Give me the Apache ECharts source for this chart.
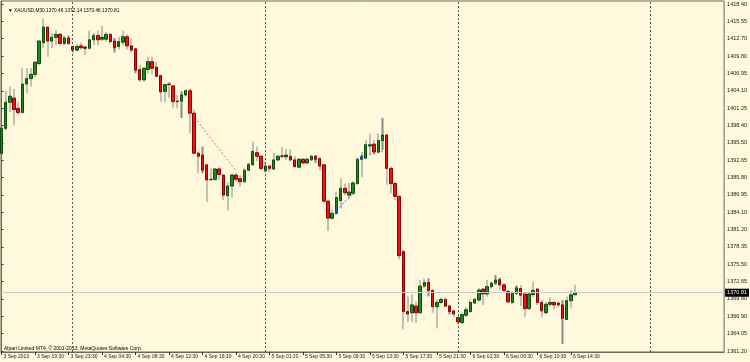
<!DOCTYPE html>
<html><head><meta charset="utf-8">
<script src="https://cdn.jsdelivr.net/npm/echarts@6/dist/echarts.min.js"></script>
<style>html,body{margin:0;padding:0;background:#FFF8DC;}#c{width:750px;height:362px;}</style>
</head><body><div id="c"></div>
<script>
const symbolName = 'XAUUSD,M30';
const footerText = 'Alpari Limited MT4, © 2001-2013, MetaQuotes Software Corp.';
// bar index 0 = 3 Sep 2013 15:30 (M30 bars)
const opens = [1393.8,1397.9,1402.2,1402.9,1401.2,1400.5,1405.2,1406.1,1406.8,1408.6,
1412.0,1414.6,1412.3,1412.9,1413.4,1411.9,1412.8,1411.4,1410.8,1411.5,
1411.3,1411.1,1412.5,1413.2,1412.6,1412.6,1413.4,1412.3,1411.4,1412.1,
1413.0,1411.5,1411.0,1407.6,1405.9,1407.6,1408.9,1408.0,1406.6,1404.0,
1405.2,1404.9,1402.4,1402.4,1403.4,1404.1,1400.4,1393.8,1393.5,1391.9,
1389.5,1389.5,1391.2,1390.2,1386.8,1388.4,1390.2,1389.6,1389.1,1391.0,
1391.9,1393.9,1393.3,1390.9,1391.7,1391.2,1392.7,1393.35,1393.2,1393.3,
1392.7,1391.5,1392.8,1392.2,1392.7,1393.3,1392.9,1391.9,1385.9,1383.1,
1383.9,1386.0,1388.0,1386.9,1387.2,1388.8,1392.8,1393.0,1395.0,1395.3,
1394.0,1395.9,1396.8,1391.3,1388.8,1386.7,1377.6,1367.7,1367.5,1368.6,
1367.5,1371.9,1372.5,1371.2,1368.5,1369.2,1369.7,1368.6,1367.8,1366.7,
1365.9,1367.1,1367.7,1369.1,1369.6,1371.4,1370.6,1371.8,1372.4,1373.0,
1372.1,1371.0,1369.2,1370.7,1371.5,1370.6,1368.2,1370.5,1371.4,1369.2,
1367.5,1368.9,1369.2,1369.1,1368.8,1366.4,1369.5,1370.46];
const highs = [1398.2,1404.1,1404.8,1404.4,1402.3,1407.8,1407.8,1407.8,1409.0,1412.4,
1416.0,1414.7,1413.6,1414.1,1413.6,1413.2,1413.2,1411.6,1411.8,1412.0,
1411.5,1414.0,1413.6,1414.0,1414.8,1413.8,1413.6,1412.8,1413.0,1414.0,
1413.4,1412.8,1411.1,1408.3,1408.0,1409.7,1409.7,1408.9,1406.6,1405.3,
1405.6,1405.0,1403.4,1404.0,1404.4,1404.5,1401.0,1394.1,1394.9,1391.9,
1391.3,1391.4,1391.5,1390.3,1389.0,1390.5,1390.6,1390.2,1391.3,1392.2,
1395.7,1394.9,1393.5,1392.4,1391.7,1393.8,1393.5,1394.8,1394.5,1394.5,
1393.3,1393.0,1393.0,1393.1,1393.5,1393.5,1393.2,1391.9,1386.1,1384.5,
1387.5,1389.7,1388.8,1388.9,1389.2,1393.1,1394.0,1396.0,1397.0,1396.0,
1397.1,1399.6,1397.0,1391.6,1389.1,1386.8,1377.8,1370.2,1370.5,1369.3,
1372.9,1373.2,1373.2,1371.3,1369.7,1370.0,1370.0,1368.8,1368.0,1367.0,
1367.5,1368.5,1369.6,1370.0,1371.6,1371.5,1372.9,1372.6,1373.7,1373.4,
1372.4,1371.3,1371.1,1372.0,1372.1,1370.6,1371.0,1372.6,1371.6,1369.6,
1369.3,1370.0,1369.4,1369.3,1369.6,1370.2,1371.25,1372.14];
const lows = [1393.5,1397.6,1400.6,1398.4,1400.1,1400.4,1403.7,1404.8,1406.3,1408.3,
1411.1,1409.7,1411.1,1411.6,1411.6,1411.6,1411.7,1410.3,1410.6,1410.9,
1410.0,1411.0,1411.6,1411.6,1412.3,1412.2,1411.8,1410.4,1410.9,1411.6,
1410.9,1410.4,1407.0,1405.6,1405.6,1407.0,1406.8,1406.3,1402.3,1402.2,
1402.9,1401.3,1401.2,1399.6,1403.1,1397.1,1393.6,1390.5,1390.5,1385.8,
1389.3,1389.3,1389.4,1386.1,1384.4,1386.5,1389.2,1388.3,1388.9,1390.9,
1391.7,1392.5,1391.0,1390.6,1390.7,1391.0,1392.5,1393.0,1392.7,1392.4,
1391.4,1391.3,1392.0,1392.0,1392.5,1392.2,1391.0,1385.5,1381.0,1382.8,
1383.6,1384.7,1386.9,1386.4,1386.9,1388.6,1389.9,1392.8,1393.5,1393.6,
1393.8,1394.3,1388.6,1387.2,1386.1,1376.3,1364.8,1366.0,1366.0,1365.8,
1367.4,1371.5,1370.2,1367.5,1364.9,1369.0,1368.4,1367.2,1366.8,1365.6,
1365.6,1366.8,1367.5,1368.9,1369.3,1368.8,1370.2,1371.5,1372.1,1371.2,
1370.7,1369.1,1369.0,1370.5,1368.6,1366.85,1368.0,1370.1,1368.8,1366.75,
1367.3,1368.5,1368.1,1368.4,1362.35,1366.3,1368.2,1370.46];
const closes = [1397.9,1402.2,1403.2,1401.0,1400.5,1405.2,1406.1,1406.8,1408.8,1412.3,
1414.6,1412.3,1412.9,1413.4,1411.9,1412.8,1411.9,1410.8,1411.4,1411.2,
1411.1,1412.5,1413.2,1412.5,1412.9,1413.4,1412.2,1411.2,1412.2,1413.0,
1411.5,1410.8,1407.5,1405.9,1407.8,1408.9,1407.8,1406.5,1403.9,1405.1,
1405.1,1402.3,1402.3,1403.4,1404.1,1400.4,1393.8,1393.3,1391.0,1389.4,
1389.45,1391.2,1390.3,1386.9,1388.4,1390.2,1389.5,1389.1,1391.0,1391.9,
1394.1,1393.3,1391.3,1391.7,1391.3,1392.7,1393.3,1393.3,1393.5,1392.7,
1391.6,1392.8,1392.2,1392.8,1393.3,1392.8,1391.7,1385.9,1383.1,1383.9,
1386.5,1388.0,1387.3,1387.4,1388.9,1392.8,1393.2,1395.2,1395.2,1394.0,
1395.9,1396.8,1391.3,1388.8,1386.7,1376.9,1367.7,1367.3,1368.8,1367.5,
1371.9,1372.5,1371.2,1368.5,1369.2,1369.7,1368.6,1367.7,1367.3,1366.0,
1367.2,1368.0,1369.2,1369.7,1371.25,1370.6,1371.8,1372.4,1372.9,1372.1,
1371.2,1369.3,1370.8,1371.6,1370.4,1368.2,1370.6,1371.2,1369.2,1367.8,
1368.9,1369.2,1368.8,1368.8,1366.6,1369.5,1370.46,1370.81];

const tickBars = [0,8,16,24,32,40,48,56,64,72,80,88,96,104,112,120,128,136];
const tickLabels = ['3 Sep 2013','3 Sep 19:30','3 Sep 23:30','4 Sep 04:30','4 Sep 08:30','4 Sep 12:30',
'4 Sep 16:30','4 Sep 20:30','5 Sep 01:30','5 Sep 05:30','5 Sep 09:30','5 Sep 13:30','5 Sep 17:30',
'5 Sep 21:30','6 Sep 02:30','6 Sep 06:30','6 Sep 10:30','6 Sep 14:30'];
const daySeparators = [17,63,109,155];
const priceTicks = [1361.20,1364.05,1366.90,1369.80,1372.65,1375.50,1378.35,1381.20,1384.10,1386.95,
1389.80,1392.65,1395.50,1398.40,1401.25,1404.10,1406.95,1409.80,1412.70,1415.55,1418.40];
const bid = 1370.81;
// trade history: [openBar, openPrice, closeBar, closePrice]
const sellTrades = [[45,1400.7,56,1390.9]];
const buyTrades = [[80,1384.4,84,1387.2],[86,1393.3,91,1394.1]];

const FONT = 'Liberation Sans, DejaVu Sans, sans-serif';
const wickData = opens.map((o,i)=>[i, lows[i], highs[i], lows[i], highs[i]]);
const bodyData = opens.map((o,i)=>[i, o, closes[i], Math.min(o,closes[i]), Math.max(o,closes[i])]);
function tradeLine(list){const out=[];list.forEach(t=>{out.push([t[0],t[1]]);out.push([t[2],t[3]]);out.push(null);});return out;}

const chart = echarts.init(document.getElementById('c'), null, {renderer:'canvas'});
chart.setOption({
  backgroundColor:'#FFF8DC',
  animation:false,
  title:{text:'\u25BC ' + symbolName + ' ' + [opens[137],highs[137],lows[137],closes[137]].map(v=>v.toFixed(2)).join(' '),
    left:3, top:3, textStyle:{fontSize:4.8, fontWeight:'normal', color:'#000', fontFamily:FONT}},
  graphic:[{type:'text', left:4, top:346, style:{text:footerText, fontSize:5, fill:'#000', fontFamily:FONT}}],
  grid:{left:1, right:23, top:1, bottom:10, show:true, borderColor:'#6e6657', borderWidth:1, backgroundColor:'transparent'},
  xAxis:{type:'value', min:-0.12, max:172.6, position:'bottom',
    axisLine:{show:true, onZero:false, lineStyle:{color:'#6e6657'}},
    axisTick:{show:true, customValues:tickBars, length:3, lineStyle:{color:'#333'}},
    axisLabel:{customValues:tickBars, formatter:v=>tickLabels[tickBars.indexOf(Math.round(v))]||'',
      align:'left', margin:2, fontSize:5, color:'#222', fontFamily:FONT, padding:[0,0,0,2]},
    splitLine:{show:false}},
  yAxis:{type:'value', position:'right', min:1361.035, max:1418.895, scale:true,
    axisLine:{show:true, lineStyle:{color:'#6e6657'}},
    axisTick:{show:true, customValues:priceTicks, length:2, lineStyle:{color:'#333'}},
    axisLabel:{customValues:priceTicks, formatter:v=>v.toFixed(2), margin:3, fontSize:5.5, color:'#222', fontFamily:FONT},
    splitLine:{show:false}},
  series:[
    {type:'candlestick', name:'wick', data:wickData, barWidth:1.6, barMinWidth:1.6, z:2,
      itemStyle:{color:'#8a8a8a', color0:'#8a8a8a', borderColor:'#8a8a8a', borderColor0:'#8a8a8a', borderWidth:0},
      markLine:{silent:true, symbol:'none', animation:false,
        data:[
          ...daySeparators.map(b=>({xAxis:b, lineStyle:{color:'#555', type:[2,2], width:1}, label:{show:false}})),
          {yAxis:bid, lineStyle:{color:'#c8c8c8', type:'solid', width:1.2},
            label:{show:true, position:'end', distance:1, formatter:bid.toFixed(2), backgroundColor:'#000', color:'#fff',
              fontSize:5.5, fontFamily:FONT, padding:[1,2,1,2]}}
        ]}},
    {type:'line', name:'sells', data:tradeLine(sellTrades), symbol:'none', z:2, connectNulls:false,
      lineStyle:{color:'#f06060', type:[2,2], width:1}},
    {type:'line', name:'buys', data:tradeLine(buyTrades), symbol:'none', z:2, connectNulls:false,
      lineStyle:{color:'#4060ff', type:[2,2], width:1}},
    {type:'candlestick', name:'body', data:bodyData, barWidth:3, z:3,
      itemStyle:{color:'#1f8a1f', color0:'#ee1414', borderColor:'#0b4a0b', borderColor0:'#8a0000', borderWidth:1}},
    {type:'scatter', name:'sellMarks', data:sellTrades.map(t=>[t[0],t[1]]), symbol:'triangle', symbolRotate:180, symbolSize:4, z:4,
      itemStyle:{color:'#ff2020'}},
    {type:'scatter', name:'buyMarks', data:buyTrades.map(t=>[t[0],t[1]]), symbol:'triangle', symbolSize:4, z:4,
      itemStyle:{color:'#2040ff'}}
  ]
});
</script></body></html>
